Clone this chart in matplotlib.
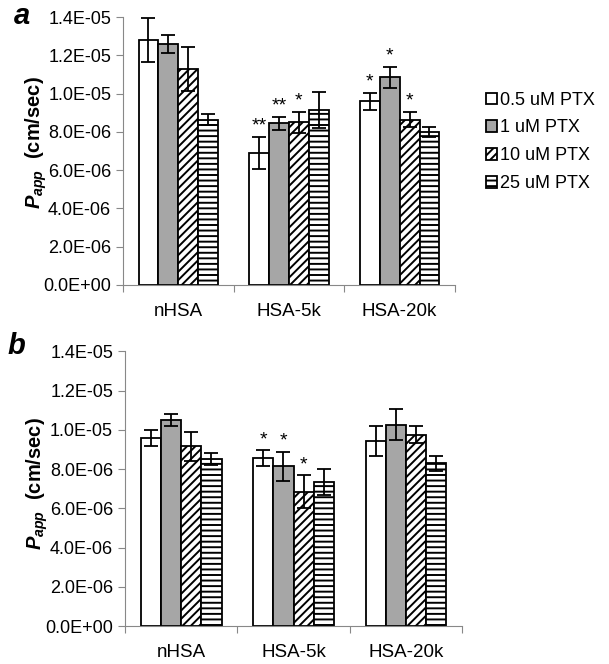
import numpy as np
import matplotlib
matplotlib.use('Agg')
from matplotlib import pyplot as plt
from matplotlib.ticker import FuncFormatter

plt.rcParams['font.family'] = 'Liberation Sans'
plt.rcParams['mathtext.fontset'] = 'custom'
plt.rcParams['mathtext.it'] = 'Liberation Sans:italic:bold'
plt.rcParams['mathtext.rm'] = 'Liberation Sans:bold'
plt.rcParams['hatch.linewidth'] = 1.4

groups = ['nHSA', 'HSA-5k', 'HSA-20k']
series = ['0.5 uM PTX', '1 uM PTX', '10 uM PTX', '25 uM PTX']
yticks = [0, 2e-6, 4e-6, 6e-6, 8e-6, 1e-5, 1.2e-5, 1.4e-5]

# panel a (rows = series, cols = groups)
a_vals = [[1.28e-5, 6.9e-6, 9.6e-6],
          [1.26e-5, 8.45e-6, 1.085e-5],
          [1.13e-5, 8.5e-6, 8.65e-6],
          [8.65e-6, 9.15e-6, 8.0e-6]]
a_err = [[1.15e-6, 8.6e-7, 4.3e-7],
         [4.5e-7, 3.5e-7, 5.7e-7],
         [1.15e-6, 5.5e-7, 3.8e-7],
         [3.0e-7, 9.5e-7, 2.7e-7]]
a_stars = [['', '**', '*'],
           ['', '**', '*'],
           ['', '*', '*'],
           ['', '', '']]

# panel b
b_vals = [[9.6e-6, 8.55e-6, 9.45e-6],
          [1.05e-5, 8.15e-6, 1.025e-5],
          [9.15e-6, 6.85e-6, 9.75e-6],
          [8.5e-6, 7.35e-6, 8.3e-6]]
b_err = [[4.1e-7, 4.0e-7, 7.6e-7],
         [3.1e-7, 7.4e-7, 7.9e-7],
         [7.3e-7, 8.3e-7, 4.2e-7],
         [3.0e-7, 6.5e-7, 3.8e-7]]
b_stars = [['', '*', ''],
           ['', '*', ''],
           ['', '*', ''],
           ['', '', '']]

colors = ['white', '#a6a6a6', 'white', 'white']
hatches = [None, None, '////', '---']


def sci(v, pos):
    return '%.1E' % v


def draw(ax, vals, errs, stars, lx, ly):
    x = np.arange(len(groups))
    w = 0.18
    for i in range(len(series)):
        pos = x - 1.5 * w + i * w
        ax.bar(pos, vals[i], w, color=colors[i], edgecolor='black',
               hatch=hatches[i], linewidth=1.3, label=series[i], zorder=2)
        ax.errorbar(pos, vals[i], yerr=errs[i], fmt='none', ecolor='black',
                    elinewidth=1.3, capsize=5, capthick=1.3, zorder=3)
        for j in range(len(groups)):
            if stars[i][j]:
                ax.text(pos[j], vals[i][j] + errs[i][j] + 1.2e-7, stars[i][j],
                        ha='center', va='bottom', fontsize=14)
    ax.set_xlim(-0.5, 2.5)
    ax.set_ylim(0, 1.4e-5)
    ax.set_yticks(yticks)
    ax.yaxis.set_major_formatter(FuncFormatter(sci))
    ax.set_xticks([-0.5, 0.5, 1.5, 2.5], minor=False)
    ax.set_xticklabels([])
    ax.set_xticks(x, minor=True)
    ax.set_xticklabels(groups, minor=True)
    ax.tick_params(axis='x', which='minor', length=0, pad=13, labelsize=13.5)
    ax.tick_params(axis='x', which='major', length=5, color='#888888')
    ax.tick_params(axis='y', length=5, color='#888888', labelsize=13)
    for s in ['top', 'right']:
        ax.spines[s].set_visible(False)
    for s in ['left', 'bottom']:
        ax.spines[s].set_color('#888888')
    ax.set_ylabel('$P_{app}$  (cm/sec)', fontsize=14.5, fontweight='bold')
    ax.yaxis.set_label_coords(lx, ly)


fig = plt.figure(figsize=(6.09, 6.64), dpi=100)
ax1 = fig.add_axes([0.202, 0.571, 0.545, 0.403])
ax2 = fig.add_axes([0.205, 0.057, 0.554, 0.414])

draw(ax1, a_vals, a_err, a_stars, -0.222, 0.53)
draw(ax2, b_vals, b_err, b_stars, -0.222, 0.52)

fig.text(0.022, 0.976, 'a', fontsize=21, fontweight='bold', fontstyle='italic',
         ha='left', va='center')
fig.text(0.012, 0.479, 'b', fontsize=21, fontweight='bold', fontstyle='italic',
         ha='left', va='center')

fig.legend(*ax1.get_legend_handles_labels(), loc='upper left',
           bbox_to_anchor=(0.798, 0.862), frameon=False, fontsize=13,
           handlelength=0.6, handleheight=0.6, handletextpad=0.2,
           labelspacing=0.6, borderaxespad=0, borderpad=0)

fig.savefig('out.png', dpi=100)
